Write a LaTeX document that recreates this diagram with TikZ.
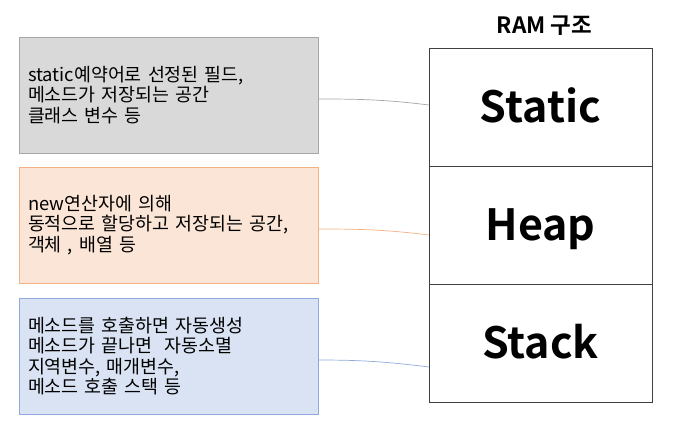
\documentclass[tikz,border=0pt]{standalone}
\usepackage{fontspec}
\setmainfont{Noto Sans CJK KR}[BoldFont={Noto Sans CJK KR Bold}]
\usetikzlibrary{positioning}
\definecolor{grayfill}{HTML}{D9D9D9}
\definecolor{grayline}{HTML}{A6A6A6}
\definecolor{orangefill}{HTML}{FBE5D6}
\definecolor{orangeline}{HTML}{F4B183}
\definecolor{bluefill}{HTML}{DAE3F3}
\definecolor{blueline}{HTML}{8FAADC}

\begin{document}
\begin{tikzpicture}[x=1pt, y=-1pt, node distance=0pt,
  note/.style={draw, anchor=north west, line width=0.8pt, outer sep=0pt, minimum height=116pt,
    text width=281pt, inner xsep=9pt, align=left, font=\fontsize{18.4}{20.5}\selectfont},
  cell/.style={draw=black!75, line width=0.9pt, outer sep=0pt, minimum width=223pt, minimum height=118pt,
    text height=31.5pt, text depth=0pt, font=\fontsize{43}{43}\selectfont\bfseries},
  link/.style={line width=0.7pt}]
  \useasboundingbox (0,0) rectangle (675,439);
  \node[note, draw=grayline, fill=grayfill] (statnote) at (19,37)
    {static예약어로 선정된 필드,\\메소드가 저장되는 공간\\클래스 변수 등};
  \node[note, draw=orangeline, fill=orangefill] (heapnote) at (19,167)
    {new연산자에 의해\\동적으로 할당하고 저장되는 공간,\\객체 , 배열 등};
  \node[note, draw=blueline, fill=bluefill] (stacknote) at (19,298)
    {메소드를 호출하면 자동생성\\메소드가 끝나면 \ 자동소멸\\지역변수, 매개변수,\\메소드 호출 스택 등};
  \node[cell] (stat) at (540.5,107) {Static};
  \node[cell, below=of stat] (heap) {Heap};
  \node[cell, below=of heap] (stack) {Stack};
  \node[anchor=base, font=\fontsize{22.5}{22.5}\selectfont\bfseries] (title) at (544.5,34) {RAM 구조};
  \draw[link, grayline] ([yshift=-4pt]statnote.east) to[out=0, in=173] ([yshift=2pt]stat.west);
  \draw[link, orangeline] ([yshift=-4pt]heapnote.east) to[out=0, in=173] ([yshift=-10pt]heap.west);
  \draw[link, blueline] ([yshift=-4pt]stacknote.east) to[out=0, in=173] ([yshift=-24pt]stack.west);
\end{tikzpicture}
\end{document}
